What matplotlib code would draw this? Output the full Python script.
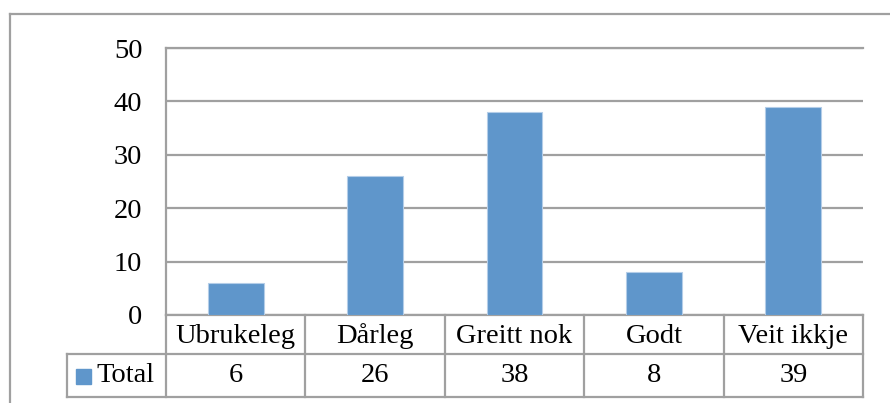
import matplotlib
matplotlib.use("Agg")
import matplotlib.pyplot as plt
from matplotlib.lines import Line2D
from matplotlib.transforms import blended_transform_factory

# data
categories = ["Ubrukeleg", "Dårleg", "Greitt nok", "Godt", "Veit ikkje"]
totals = [6, 26, 38, 8, 39]
series_name = "Total"
yticks = [0, 10, 20, 30, 40, 50]

plt.rcParams['font.family'] = ['Liberation Serif', 'DejaVu Serif']
grey = '#A0A0A0'
bar_col = '#5F96CB'
fs = 20.5

W, H = 890, 403
fig = plt.figure(figsize=(W / 100, H / 100), dpi=100)
left, right, bottom, top = 166, 863, 315, 48
ax = fig.add_axes([left / W, 1 - bottom / H, (right - left) / W, (bottom - top) / H])

x = list(range(len(categories)))
ax.bar(x, totals, width=0.4, color=bar_col, edgecolor='#B4CDE8', linewidth=0.8, zorder=3)
ax.set_xlim(-0.5, len(categories) - 0.5)
ax.set_ylim(yticks[0], yticks[-1])
ax.set_yticks(yticks)
ax.yaxis.grid(True, color=grey, linewidth=1.6)
ax.set_axisbelow(True)
ax.tick_params(axis='y', length=0, pad=17, labelsize=fs)
ax.tick_params(axis='x', length=0, labelbottom=False)
ax.spines['right'].set_visible(False)
for s in ['left', 'top', 'bottom']:
    ax.spines[s].set_color(grey)
    ax.spines[s].set_linewidth(1.6)

# data table under the axis
trans = blended_transform_factory(ax.transData, ax.transAxes)
px_x = (right - left) / len(categories)   # pixels per category
px_y = bottom - top                        # pixels per axes height
y1 = -39 / px_y
y2 = -82 / px_y
xl = -0.5 - (left - 67) / px_x
xr = len(categories) - 0.5
lkw = dict(color=grey, lw=1.6, transform=trans, clip_on=False)

ax.plot([xl, xr], [y1, y1], **lkw)
ax.plot([xl, xr], [y2, y2], **lkw)
ax.plot([xl, xl], [y1, y2], **lkw)
for b in range(len(categories) + 1):
    ax.plot([b - 0.5, b - 0.5], [0, y2], **lkw)

for i, (c, v) in enumerate(zip(categories, totals)):
    ax.text(i, y1 / 2 - 2 / px_y, c, ha='center', va='center', fontsize=fs, transform=trans)
    ax.text(i, (y1 + y2) / 2, str(v), ha='center', va='center', fontsize=fs, transform=trans)

ax.plot([xl + 16.5 / px_x], [(y1 + y2) / 2], marker='s', markersize=10.8,
        color=bar_col, transform=trans, clip_on=False)
ax.text(xl + 29 / px_x, (y1 + y2) / 2, series_name, ha='left', va='center',
        fontsize=fs, transform=trans)

# outer chart frame (cut at the image edge)
fig.add_artist(Line2D([10 / W, 10 / W], [0, 1 - 14 / H], color=grey, lw=1.6))
fig.add_artist(Line2D([10 / W, 1], [1 - 14 / H, 1 - 14 / H], color=grey, lw=1.6))

fig.savefig("out.png", dpi=100)
